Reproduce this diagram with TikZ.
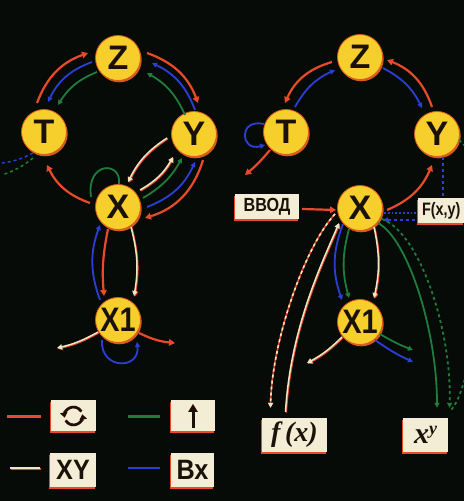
\documentclass[tikz,border=0pt]{standalone}
\usepackage{fontspec}
\setmainfont{Liberation Sans}
\newfontfamily\serifit{Liberation Serif}
\usetikzlibrary{arrows.meta,calc,shadows}
\definecolor{bg}{HTML}{070B07}
\definecolor{redc}{HTML}{E84A2A}
\definecolor{bluec}{HTML}{2B3FD6}
\definecolor{greenc}{HTML}{1E7D3C}
\definecolor{cream}{HTML}{EFE7C4}
\definecolor{yel}{HTML}{F6CF2C}
\definecolor{rim}{HTML}{DA5A1C}
\definecolor{ink}{HTML}{1A1208}
\definecolor{paper}{HTML}{F3EDD6}
\tikzset{
 var/.style={circle, fill=yel, draw=rim, line width=0.8pt, minimum size=45pt, inner sep=0pt, text=ink,
   font=\bfseries\fontsize{34}{34}\selectfont,
   drop shadow={shadow xshift=1.2pt, shadow yshift=-1.8pt, fill=rim, opacity=1}},
 card/.style={rectangle, fill=paper, inner sep=0pt, text=ink, font=\bfseries,
   drop shadow={shadow xshift=-0.8pt, shadow yshift=-1.8pt, fill=redc, opacity=1}},
 tip/.style={-{Triangle[length=6pt,width=6.5pt]}},
 tipS/.style={-{Triangle[length=5pt,width=5pt]}},
 rl/.style={draw=redc, line width=2.2pt},
 bl/.style={draw=bluec, line width=1.8pt},
 gl/.style={draw=greenc, line width=1.8pt},
 cl/.style={draw=cream, line width=1.5pt, preaction={draw=redc, line width=1.5pt, transform canvas={shift={(0.8pt,-0.8pt)}}}},
 cd/.style={draw=redc, line width=1.6pt, postaction={draw=cream, dash pattern=on 3pt off 3pt}},
}
\begin{document}
\begin{tikzpicture}[x=1pt,y=1pt]
\fill[bg] (0,0) rectangle (464,501);
\useasboundingbox (0,0) rectangle (464,501);
\clip (0,0) rectangle (464,501);

% ---------- left diagram nodes
\node[var] (Z) at (118,443) {Z};
\node[var] (T) at (44,369) {T};
\node[var] (Y) at (194,367) {Y};
\node[var] (X) at (118,294) {X};
\node[var] (X1) at (118,181) {\scalebox{0.85}[1]{X1}};
% ---------- right diagram nodes
\node[var] (Z2) at (360,444) {Z};
\node[var] (T2) at (286,369) {T};
\node[var] (Y2) at (437,367) {Y};
\node[var] (X2) at (360,293) {X};
\node[var] (X12) at (360,179) {\scalebox{0.85}[1]{X1}};
% ---------- cards
\node[card, minimum width=64pt, minimum height=25pt, font=\bfseries\fontsize{19}{19}\selectfont] (vvod) at (267,294) {\scalebox{0.85}[1]{ВВОД}};
\node[card, anchor=west, minimum width=46pt, minimum height=25pt, font=\bfseries\fontsize{18}{18}\selectfont] (Fxy) at (418,290.5) {\scalebox{0.8}[1]{F(x,y)}};
\node[card, minimum width=65pt, minimum height=34pt] (fx) at (294.5,66) {\serifit\bfseries\itshape\fontsize{28}{28}\selectfont f\,(x)};
\node[card, minimum width=45pt, minimum height=34pt] (xy) at (425.5,66) {\serifit\bfseries\itshape\fontsize{30}{30}\selectfont x\raisebox{9pt}{\fontsize{18}{18}\selectfont y}};
% ---------- legend
\node[card, minimum width=45pt, minimum height=31pt] (L1) at (73.5,85) {};
\node[card, minimum width=44pt, minimum height=31pt] (L2) at (193,85) {};
\node[card, minimum width=46pt, minimum height=34pt, font=\bfseries\fontsize{28}{28}\selectfont] (L3) at (73,31) {\scalebox{0.9}[1]{XY}};
\node[card, minimum width=43pt, minimum height=34pt, font=\bfseries\fontsize{28}{28}\selectfont] (L4) at (192.5,31) {\scalebox{0.9}[1]{Вх}};

\foreach \c/\dx/\dy in {redc/0.8/-1, ink/0/0}{
  \begin{scope}[shift={(\dx,\dy)}]
  \draw[\c, line width=2.6pt, -{Triangle[length=5pt,width=7pt]}] ($(L1)+(30:9)$) arc[start angle=30, end angle=190, radius=9];
  \draw[\c, line width=2.6pt, -{Triangle[length=5pt,width=7pt]}] ($(L1)+(210:9)$) arc[start angle=210, end angle=370, radius=9];
  \draw[\c, line width=3pt, -{Triangle[length=8pt,width=9pt]}] ($(L2)+(0,-12)$) -- ($(L2)+(0,12)$);
  \end{scope}
}
\draw[rl, line width=3pt] ($(L1.west)+(-44,-1)$) -- ($(L1.west)+(-10,-1)$);
\draw[gl, line width=3pt] ($(L2.west)+(-43,-1)$) -- ($(L2.west)+(-11,-1)$);
\draw[cl, line width=2.2pt] ($(L3.west)+(-40,2)$) -- ($(L3.west)+(-10,2)$);
\draw[bl, line width=2pt] ($(L4.west)+(-43,2)$) -- ($(L4.west)+(-11,2)$);

% ---------- left diagram connectors
\draw[rl,tip] ($(Z)+(29,5)$) to[bend left=25] ($(Y)+(4,31)$);
\draw[rl,tip] ($(T)+(-7,29)$) to[bend left=25] ($(Z)+(-30,5)$);
\draw[rl,tip] ($(X)+(-28,4)$) to[bend left=22] ($(T)+(3,-33)$);
\draw[rl,tip] ($(Y)+(9,-26)$) to[bend left=28] ($(X)+(27,-11)$);

\draw[bl,tipS] ($(X)+(29,0)$) to[bend right=22] ($(Y)+(1,-28)$);
\draw[bl,tipS] ($(Y)+(1,24)$) to[bend right=22] ($(Z)+(34,-5)$);
\draw[bl,tipS] ($(Z)+(-26,-4)$) to[bend right=22] ($(T)+(4,30)$);
\draw[gl,tipS] ($(X)+(25,9)$) to[bend right=15] ($(Y)+(-12,-24)$);
\draw[gl,tipS] ($(Y)+(-9,19)$) to[bend right=18] ($(Z)+(29,-15)$);
\draw[gl,tipS] ($(Z)+(-21,-14)$) to[bend right=18] ($(T)+(14,27)$);

\coordinate (offB) at (2,338);
\coordinate (offG) at (2,326);
\draw[bl, dashed, line width=1.5pt] ($(T)+(-11,-21)$) to[bend left=10] (offB);
\draw[gl, dashed, line width=1.5pt] ($(T)+(-11,-26)$) to[bend left=10] (offG);

\draw[gl] ($(X)+(-27,10)$) .. controls ($(X)+(-32,46)$) and ($(X)+(4,46)$) .. ($(X)+(1,23)$);

\draw[cl,tipS] ($(Y)+(-27,-4)$) to[bend right=15] ($(X)+(10,25)$);
\draw[cl,tipS] ($(X)+(22,17)$) to[bend right=15] ($(Y)+(-21,-23)$);

\draw[bl,tipS] ($(X1)+(-18,20)$) to[bend left=20] ($(X)+(-18,-18)$);
\draw[rl,tip] ($(X)+(-10,-22)$) to[bend right=8] ($(X1)+(-14,24)$);
\draw[cl,tipS] ($(X)+(13,-20)$) to[bend left=12] ($(X1)+(16,24)$);

\coordinate (c1) at (57,153);
\coordinate (c2) at (175,158);
\draw[cl,tipS] ($(X1)+(-20,-12)$) to[bend left=8] (c1);
\draw[rl,tip] ($(X1)+(21,-13)$) to[bend right=10] (c2);
\draw[bl,tipS] ($(X1)+(-16,-20)$) .. controls ($(X1)+(-18,-50)$) and ($(X1)+(22,-50)$) .. ($(X1)+(19,-22)$);

% ---------- right diagram connectors
\draw[rl,tip] ($(X2)+(27,-2)$) to[bend right=22] ($(Y2)+(-5,-31)$);
\draw[rl,tip] ($(Y2)+(-5,27)$) to[bend right=25] ($(Z2)+(27,-3)$);
\draw[rl,tip] ($(Z2)+(-28,-5)$) to[bend right=25] ($(T2)+(-1,29)$);
\coordinate (c3) at (245,326);
\draw[rl,tip] ($(T2)+(-16,-18)$) to[bend left=5] (c3);

\draw[bl,tipS] ($(T2)+(9,25)$) to[bend left=18] ($(Z2)+(-25,-13)$);
\draw[bl,tipS] ($(Z2)+(23,-11)$) to[bend left=18] ($(Y2)+(-15,26)$);
\draw[bl,tipS] ($(T2)+(-22,8)$) .. controls ($(T2)+(-48,14)$) and ($(T2)+(-46,-20)$) .. ($(T2)+(-21,-13)$);

\draw[rl,tip] ($(vvod.east)+(3,-2)$) -- ($(X2.west)+(-1,-2)$);

\draw[bl, dashed, line width=1.5pt] ($(Y2)+(6,-23)$) -- ($(Fxy.north west)+(25,0)$);
\draw[bl, dotted, line width=1.8pt] ($(X2)+(24,-5)$) -- ($(Fxy.west)+(0,-2.5)$);
\draw[bl, dashed, line width=1.5pt, tipS] ($(Fxy.west)+(-3,-9.5)$) -- ($(X2)+(23,-12)$);

\draw[cl,tipS] ($(fx.north)+(-9,6)$) .. controls ($(fx.north)+(-4,90)$) and ($(X2)+(-38,-55)$) .. ($(X2)+(-21,-15)$);
\draw[cd,tipS] ($(X2)+(-25,-6)$) .. controls ($(X2)+(-55,-38)$) and ($(fx.north)+(-22.5,77)$) .. ($(fx.north)+(-24,10)$);

\draw[gl,tipS] ($(X2)+(18,-15)$) .. controls ($(X2)+(48,-31)$) and ($(xy.north)+(11.5,87)$) .. ($(xy.north)+(11.5,10)$);
\draw[gl,dashed,tipS] ($(X2)+(22,-11)$) .. controls ($(X2)+(60,-25)$) and ($(xy.north)+(26.5,87)$) .. ($(xy.north)+(24,10)$);
\draw[gl,dashed] ($(Y2)+(22,-6)$) .. controls (500,330) and (478,120) .. ($(xy.north east)+(3,8)$);

\draw[bl,tipS] ($(X2)+(-17,-16)$) to[bend right=20] ($(X12)+(-18,22)$);
\draw[gl,tipS] ($(X2)+(-11,-21)$) to[bend right=15] ($(X12)+(-11,24)$);
\draw[cl,tipS] ($(X2)+(14,-19)$) to[bend left=12] ($(X12)+(14,24)$);

\coordinate (c4) at (307,138);
\coordinate (c5) at (413,151);
\coordinate (c6) at (413,139);
\draw[cl,tipS] ($(X12)+(-18,-15)$) to[bend left=8] (c4);
\draw[gl,tipS] ($(X12)+(20,-12)$) to[bend right=5] (c5);
\draw[bl,tipS] ($(X12)+(15,-18)$) to[bend right=5] (c6);
\end{tikzpicture}
\end{document}
